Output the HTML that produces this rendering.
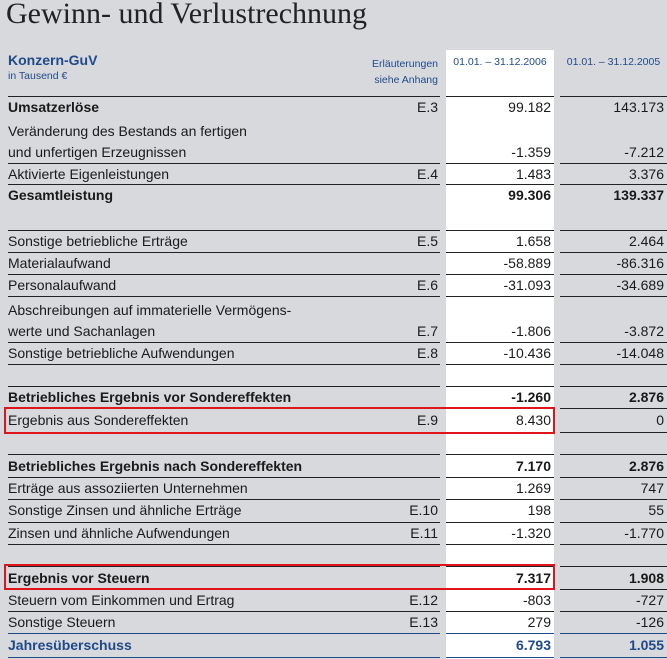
<!DOCTYPE html>
<html><head><meta charset="utf-8"><style>
body{margin:0;width:667px;height:659px;background:#d8d9dd;position:relative;overflow:hidden;font-family:"Liberation Sans Narrow","Liberation Sans",sans-serif;color:#1a1a1a}
.a{position:absolute;white-space:nowrap}
.t{font-family:"Liberation Serif",serif;font-size:30px;left:6px;top:-3px;color:#222}
.wc{position:absolute;left:446px;top:50px;width:108px;height:609px;background:#fff}
.ln{position:absolute;height:1px;background:#222}
.r{position:absolute;height:22px;line-height:22px;font-size:14px}
.l{left:8px}.n{right:229px}.v1{right:116px}.v2{right:3px}
.b{font-weight:bold}
.blue{color:#1f4a8a}
.box{position:absolute;border:2px solid #e0141b}
</style></head><body>
<div class="a t">Gewinn- und Verlustrechnung</div>
<div class="wc"></div>
<div class="a blue b" style="left:8px;top:52px;font-size:14px">Konzern-GuV</div>
<div class="a blue" style="left:8px;top:70px;font-size:10.5px">in Tausend €</div>
<div class="a blue" style="right:229px;top:56px;font-size:10.5px;text-align:right;line-height:16px">Erläuterungen<br>siehe Anhang</div>
<div class="a blue" style="left:446px;width:108px;text-align:center;top:56px;font-size:10.5px">01.01. – 31.12.2006</div>
<div class="a blue" style="left:560px;width:107px;text-align:center;top:56px;font-size:10.5px">01.01. – 31.12.2005</div>

<div id="lines"></div>
<script>
var ys=[96,163,184,230,252,274,296,342,364,386,408,432,454,477,499,522,544,566,589,611];
var h='';
ys.forEach(function(y){h+='<div class="ln" style="top:'+y+'px;left:8px;width:432px"></div><div class="ln" style="top:'+y+'px;left:446px;width:108px"></div><div class="ln" style="top:'+y+'px;left:560px;width:107px"></div>';});
[633,657].forEach(function(y){h+='<div class="ln" style="background:#1f4a8a;top:'+y+'px;left:8px;width:432px"></div><div class="ln" style="background:#1f4a8a;top:'+y+'px;left:446px;width:108px"></div><div class="ln" style="background:#1f4a8a;top:'+y+'px;left:560px;width:107px"></div>';});
document.getElementById('lines').innerHTML=h;
</script>

<div class="r b" style="top:96px;width:667px"><span class="a l b">Umsatzerlöse</span><span class="a n" style="font-weight:normal">E.3</span><span class="a v1" style="font-weight:normal">99.182</span><span class="a v2" style="font-weight:normal">143.173</span></div>
<div class="r" style="top:120px;width:667px"><span class="a l">Veränderung des Bestands an fertigen</span></div>
<div class="r" style="top:141px;width:667px"><span class="a l">und unfertigen Erzeugnissen</span><span class="a v1">-1.359</span><span class="a v2">-7.212</span></div>
<div class="r" style="top:163px;width:667px"><span class="a l">Aktivierte Eigenleistungen</span><span class="a n">E.4</span><span class="a v1">1.483</span><span class="a v2">3.376</span></div>
<div class="r b" style="top:184px;width:667px"><span class="a l">Gesamtleistung</span><span class="a v1">99.306</span><span class="a v2">139.337</span></div>
<div class="r" style="top:230px;width:667px"><span class="a l">Sonstige betriebliche Erträge</span><span class="a n">E.5</span><span class="a v1">1.658</span><span class="a v2">2.464</span></div>
<div class="r" style="top:252px;width:667px"><span class="a l">Materialaufwand</span><span class="a v1">-58.889</span><span class="a v2">-86.316</span></div>
<div class="r" style="top:274px;width:667px"><span class="a l">Personalaufwand</span><span class="a n">E.6</span><span class="a v1">-31.093</span><span class="a v2">-34.689</span></div>
<div class="r" style="top:299px;width:667px"><span class="a l">Abschreibungen auf immaterielle Vermögens-</span></div>
<div class="r" style="top:320px;width:667px"><span class="a l">werte und Sachanlagen</span><span class="a n">E.7</span><span class="a v1">-1.806</span><span class="a v2">-3.872</span></div>
<div class="r" style="top:342px;width:667px"><span class="a l">Sonstige betriebliche Aufwendungen</span><span class="a n">E.8</span><span class="a v1">-10.436</span><span class="a v2">-14.048</span></div>
<div class="r b" style="top:386px;width:667px"><span class="a l">Betriebliches Ergebnis vor Sondereffekten</span><span class="a v1">-1.260</span><span class="a v2">2.876</span></div>
<div class="r" style="top:409px;width:667px"><span class="a l">Ergebnis aus Sondereffekten</span><span class="a n">E.9</span><span class="a v1">8.430</span><span class="a v2">0</span></div>
<div class="r b" style="top:455px;width:667px"><span class="a l">Betriebliches Ergebnis nach Sondereffekten</span><span class="a v1">7.170</span><span class="a v2">2.876</span></div>
<div class="r" style="top:477px;width:667px"><span class="a l">Erträge aus assoziierten Unternehmen</span><span class="a v1">1.269</span><span class="a v2">747</span></div>
<div class="r" style="top:499px;width:667px"><span class="a l">Sonstige Zinsen und ähnliche Erträge</span><span class="a n">E.10</span><span class="a v1">198</span><span class="a v2">55</span></div>
<div class="r" style="top:522px;width:667px"><span class="a l">Zinsen und ähnliche Aufwendungen</span><span class="a n">E.11</span><span class="a v1">-1.320</span><span class="a v2">-1.770</span></div>
<div class="r b" style="top:567px;width:667px"><span class="a l">Ergebnis vor Steuern</span><span class="a v1">7.317</span><span class="a v2">1.908</span></div>
<div class="r" style="top:589px;width:667px"><span class="a l">Steuern vom Einkommen und Ertrag</span><span class="a n">E.12</span><span class="a v1">-803</span><span class="a v2">-727</span></div>
<div class="r" style="top:611px;width:667px"><span class="a l">Sonstige Steuern</span><span class="a n">E.13</span><span class="a v1">279</span><span class="a v2">-126</span></div>
<div class="r b blue" style="top:634px;width:667px"><span class="a l">Jahresüberschuss</span><span class="a v1">6.793</span><span class="a v2">1.055</span></div>

<div class="box" style="left:4px;top:407px;width:547px;height:23px"></div>
<div class="box" style="left:4px;top:564px;width:547px;height:22px"></div>
</body></html>
